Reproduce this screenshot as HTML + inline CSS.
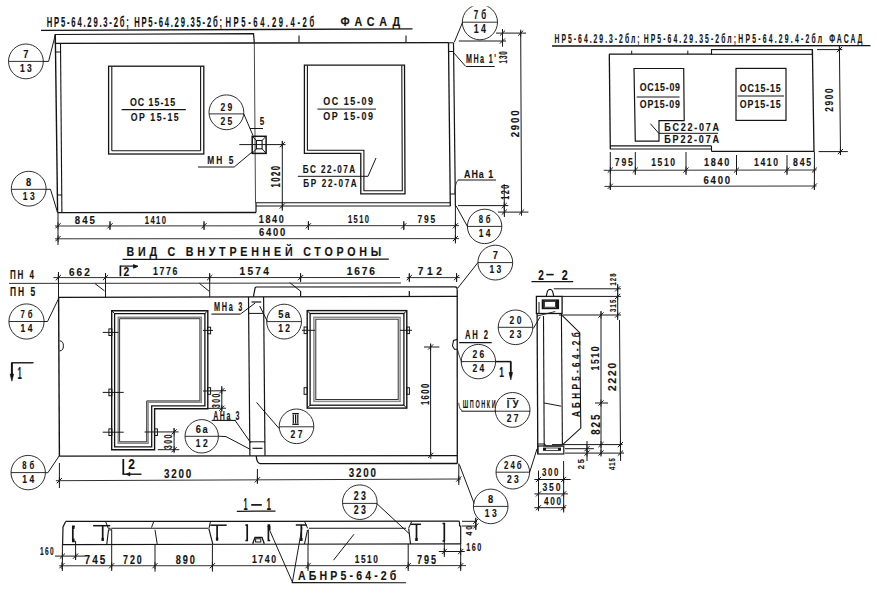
<!DOCTYPE html>
<html><head><meta charset="utf-8"><title>Панель НР5-64</title>
<style>
html,body{margin:0;padding:0;background:#fff;}
body{width:877px;height:594px;overflow:hidden;}
svg{display:block;font-family:"Liberation Sans",sans-serif;}
</style></head>
<body>
<svg width="877" height="594" viewBox="0 0 877 594">
<rect width="877" height="594" fill="#fff"/>
<text transform="translate(46.8,26.8) scale(0.55,1)" font-size="13.91" font-weight="bold" textLength="149.09" lengthAdjust="spacing" fill="#141414" stroke="#141414" stroke-width="0.15">НР5-64.29.3-2б;</text>
<text transform="translate(134.2,26.8) scale(0.55,1)" font-size="13.91" font-weight="bold" textLength="159.64" lengthAdjust="spacing" fill="#141414" stroke="#141414" stroke-width="0.15">НР5-64.29.35-2б;</text>
<text transform="translate(225.4,26.8) scale(0.55,1)" font-size="13.91" font-weight="bold" textLength="161.45" lengthAdjust="spacing" fill="#141414" stroke="#141414" stroke-width="0.15">НР5-64.29.4-2б</text>
<text transform="translate(340.6,26.4) scale(0.8,1)" font-size="13.33" font-weight="bold" textLength="74.25" lengthAdjust="spacing" fill="#141414" stroke="#141414" stroke-width="0.15">ФАСАД</text>
<line x1="41" y1="30.3" x2="412.5" y2="28.9" stroke="#141414" stroke-width="1.3"/>
<polyline points="55.3,43.4 55.3,34.5 253.5,33.6 254.3,42.6" fill="none" stroke="#141414" stroke-width="1.2" stroke-linejoin="miter"/>
<line x1="55.3" y1="43.4" x2="448.5" y2="42.6" stroke="#141414" stroke-width="1.3"/>
<line x1="254.3" y1="42.6" x2="255.5" y2="203" stroke="#181818" stroke-width="0.8"/>
<line x1="55.3" y1="34.5" x2="57.6" y2="212.6" stroke="#141414" stroke-width="1.4"/>
<line x1="60.5" y1="43.4" x2="61.9" y2="212.4" stroke="#141414" stroke-width="1.1"/>
<line x1="55.5" y1="52" x2="60.6" y2="52" stroke="#141414" stroke-width="1.0"/>
<line x1="57.3" y1="195" x2="61.8" y2="195" stroke="#141414" stroke-width="1.0"/>
<line x1="57.6" y1="212.6" x2="256" y2="212.5" stroke="#141414" stroke-width="1.4"/>
<line x1="256" y1="203" x2="256" y2="212.5" stroke="#141414" stroke-width="1.2"/>
<line x1="256" y1="202.8" x2="450.5" y2="202.8" stroke="#141414" stroke-width="1.1"/>
<line x1="256" y1="206" x2="450.5" y2="206" stroke="#141414" stroke-width="1.2"/>
<line x1="448.5" y1="42.6" x2="450.3" y2="206" stroke="#141414" stroke-width="1.3"/>
<line x1="453.5" y1="42.8" x2="455.4" y2="206" stroke="#141414" stroke-width="1.2"/>
<line x1="448.4" y1="42.8" x2="453.5" y2="42.8" stroke="#141414" stroke-width="1.0"/>
<line x1="448.5" y1="51.5" x2="453.6" y2="51.5" stroke="#141414" stroke-width="1.0"/>
<line x1="450.2" y1="194" x2="455.2" y2="194" stroke="#141414" stroke-width="1.0"/>
<line x1="299" y1="35.5" x2="299" y2="42.2" stroke="#141414" stroke-width="1.1"/>
<line x1="406" y1="35.5" x2="406" y2="42.2" stroke="#141414" stroke-width="1.1"/>
<rect x="108.6" y="66.2" width="95.2" height="87.8" fill="none" stroke="#141414" stroke-width="1.3"/>
<line x1="111.8" y1="66.5" x2="111.8" y2="150.8" stroke="#141414" stroke-width="1.1"/>
<line x1="200.6" y1="66.5" x2="200.6" y2="150.8" stroke="#141414" stroke-width="1.1"/>
<line x1="111.8" y1="150.8" x2="200.6" y2="150.8" stroke="#141414" stroke-width="1.1"/>
<text transform="translate(130,106.2) scale(0.8,1)" font-size="11.01" font-weight="bold" textLength="56.37" lengthAdjust="spacing" fill="#141414" stroke="#141414" stroke-width="0.15">ОС 15-15</text>
<text transform="translate(130.8,120.55) scale(0.8,1)" font-size="10.87" font-weight="bold" textLength="59.87" lengthAdjust="spacing" fill="#141414" stroke="#141414" stroke-width="0.15">ОР 15-15</text>
<line x1="121.6" y1="109.6" x2="185.8" y2="109.6" stroke="#141414" stroke-width="1.1"/>
<polygon points="304.4,65.2 404.5,65.2 405,193.8 360.8,193.8 360.8,153.3 304.4,153.3" fill="none" stroke="#141414" stroke-width="1.3" stroke-linejoin="miter"/>
<polyline points="307.4,65.5 307.4,150.3 363.9,150.3 363.9,190.7 402.3,190.7 401.8,65.5" fill="none" stroke="#141414" stroke-width="1.1" stroke-linejoin="miter"/>
<text transform="translate(323.2,105.45) scale(0.8,1)" font-size="11.16" font-weight="bold" textLength="62.25" lengthAdjust="spacing" fill="#141414" stroke="#141414" stroke-width="0.15">ОС 15-09</text>
<text transform="translate(323.2,120.15) scale(0.8,1)" font-size="11.16" font-weight="bold" textLength="62.25" lengthAdjust="spacing" fill="#141414" stroke="#141414" stroke-width="0.15">ОР 15-09</text>
<line x1="317.4" y1="109.1" x2="376" y2="109.1" stroke="#141414" stroke-width="1.0"/>
<text transform="translate(302.8,173.1) scale(0.8,1)" font-size="10.14" font-weight="bold" textLength="65.5" lengthAdjust="spacing" fill="#141414" stroke="#141414" stroke-width="0.15">БС 22-07А</text>
<text transform="translate(303.3,186.5) scale(0.8,1)" font-size="10.14" font-weight="bold" textLength="66.75" lengthAdjust="spacing" fill="#141414" stroke="#141414" stroke-width="0.15">БР 22-07А</text>
<line x1="297.8" y1="176.3" x2="368" y2="176.3" stroke="#141414" stroke-width="1.0"/>
<line x1="368" y1="176.3" x2="376" y2="158" stroke="#181818" stroke-width="1.0"/>
<rect x="252.2" y="136.3" width="13.9" height="17.1" fill="none" stroke="#141414" stroke-width="1.5"/>
<rect x="256.4" y="140.5" width="5.7" height="8.3" fill="none" stroke="#141414" stroke-width="1.1"/>
<line x1="252.2" y1="136.3" x2="256.4" y2="140.5" stroke="#181818" stroke-width="1.0"/>
<line x1="266.1" y1="136.3" x2="262.1" y2="140.5" stroke="#181818" stroke-width="1.0"/>
<line x1="252.2" y1="153.4" x2="256.4" y2="148.8" stroke="#181818" stroke-width="1.0"/>
<line x1="266.1" y1="153.4" x2="262.1" y2="148.8" stroke="#181818" stroke-width="1.0"/>
<line x1="239.3" y1="144.6" x2="285.5" y2="144.6" stroke="#181818" stroke-width="1.0"/>
<text transform="translate(207.2,163.9) scale(0.8,1)" font-size="10.43" font-weight="bold" textLength="32.75" lengthAdjust="spacing" fill="#141414" stroke="#141414" stroke-width="0.15">МН 5</text>
<line x1="198" y1="167" x2="234.2" y2="167" stroke="#181818" stroke-width="1.0"/>
<line x1="234.2" y1="167" x2="251.9" y2="152.2" stroke="#181818" stroke-width="1.0"/>
<circle cx="226.4" cy="112.3" r="17.4" fill="none" stroke="#181818" stroke-width="0.9"/>
<line x1="209" y1="113.9" x2="243.8" y2="113.9" stroke="#181818" stroke-width="0.9"/>
<text transform="translate(220.48,110.6) scale(0.7345524023602119,1)" font-size="11.59" font-weight="bold" textLength="16.12" lengthAdjust="spacing" fill="#141414" stroke="#141414" stroke-width="0.15">29</text>
<text transform="translate(220.48,124.7) scale(0.7345524023602119,1)" font-size="11.59" font-weight="bold" textLength="16.12" lengthAdjust="spacing" fill="#141414" stroke="#141414" stroke-width="0.15">25</text>
<line x1="243.8" y1="113.9" x2="253" y2="135.6" stroke="#181818" stroke-width="1.0"/>
<text transform="translate(259.8,124.5) scale(0.8,1)" font-size="10.14" font-weight="bold" textLength="5.75" lengthAdjust="spacing" fill="#141414" stroke="#141414" stroke-width="0.15">5</text>
<line x1="250" y1="128.5" x2="263" y2="128.5" stroke="#181818" stroke-width="1.0"/>
<line x1="282.3" y1="140.8" x2="282.3" y2="210.8" stroke="#181818" stroke-width="1.0"/>
<line x1="279.7" y1="147.2" x2="284.9" y2="142" stroke="#181818" stroke-width="1.0"/>
<line x1="282.3" y1="141.1" x2="282.3" y2="148.1" stroke="#181818" stroke-width="0.9"/>
<line x1="279.7" y1="208.6" x2="284.9" y2="203.4" stroke="#181818" stroke-width="1.0"/>
<line x1="282.3" y1="202.5" x2="282.3" y2="209.5" stroke="#181818" stroke-width="0.9"/>
<text transform="translate(280.4,187.5) rotate(-90) scale(0.6381246738650502,1)" font-size="12.17" font-weight="bold" textLength="33.85" lengthAdjust="spacing" fill="#141414" stroke="#141414" stroke-width="0.15">1020</text>
<circle cx="25.9" cy="61.4" r="17.4" fill="none" stroke="#181818" stroke-width="0.9"/>
<line x1="8.5" y1="61.4" x2="43.3" y2="61.4" stroke="#181818" stroke-width="0.9"/>
<text transform="translate(23.32,58.1) scale(0.8,1)" font-size="11.59" font-weight="bold" textLength="6.45" lengthAdjust="spacingAndGlyphs" fill="#141414" stroke="#141414" stroke-width="0.15">7</text>
<text transform="translate(19.98,72.2) scale(0.7345524023602138,1)" font-size="11.59" font-weight="bold" textLength="16.12" lengthAdjust="spacing" fill="#141414" stroke="#141414" stroke-width="0.15">13</text>
<line x1="43" y1="61.4" x2="48.6" y2="61.4" stroke="#181818" stroke-width="1.0"/>
<line x1="48.6" y1="61.4" x2="55.3" y2="34.8" stroke="#181818" stroke-width="1.0"/>
<circle cx="28.7" cy="188.7" r="17.4" fill="none" stroke="#181818" stroke-width="0.9"/>
<line x1="11.3" y1="189.3" x2="46.1" y2="189.3" stroke="#181818" stroke-width="0.9"/>
<text transform="translate(26.12,186) scale(0.8,1)" font-size="11.59" font-weight="bold" textLength="6.45" lengthAdjust="spacingAndGlyphs" fill="#141414" stroke="#141414" stroke-width="0.15">8</text>
<text transform="translate(22.78,200.1) scale(0.7345524023602134,1)" font-size="11.59" font-weight="bold" textLength="16.12" lengthAdjust="spacing" fill="#141414" stroke="#141414" stroke-width="0.15">13</text>
<line x1="46" y1="189.3" x2="50.5" y2="189.3" stroke="#181818" stroke-width="1.0"/>
<line x1="50.5" y1="189.3" x2="57.6" y2="212.6" stroke="#181818" stroke-width="1.0"/>
<line x1="55" y1="226" x2="459" y2="225.6" stroke="#181818" stroke-width="0.9"/>
<line x1="55" y1="238.8" x2="459" y2="238.6" stroke="#181818" stroke-width="0.9"/>
<line x1="58" y1="213" x2="58" y2="245" stroke="#181818" stroke-width="1.0"/>
<line x1="455.4" y1="206" x2="455.4" y2="243.5" stroke="#181818" stroke-width="1.0"/>
<line x1="55.4" y1="228.4" x2="60.6" y2="223.2" stroke="#181818" stroke-width="1.0"/>
<line x1="58" y1="222.3" x2="58" y2="229.3" stroke="#181818" stroke-width="0.9"/>
<line x1="107.4" y1="228.4" x2="112.6" y2="223.2" stroke="#181818" stroke-width="1.0"/>
<line x1="110" y1="222.3" x2="110" y2="229.3" stroke="#181818" stroke-width="0.9"/>
<line x1="110" y1="221" x2="110" y2="230" stroke="#181818" stroke-width="1.0"/>
<line x1="201.4" y1="228.4" x2="206.6" y2="223.2" stroke="#181818" stroke-width="1.0"/>
<line x1="204" y1="222.3" x2="204" y2="229.3" stroke="#181818" stroke-width="0.9"/>
<line x1="204" y1="221" x2="204" y2="230" stroke="#181818" stroke-width="1.0"/>
<line x1="305.8" y1="228.4" x2="311" y2="223.2" stroke="#181818" stroke-width="1.0"/>
<line x1="308.4" y1="222.3" x2="308.4" y2="229.3" stroke="#181818" stroke-width="0.9"/>
<line x1="308.4" y1="221" x2="308.4" y2="230" stroke="#181818" stroke-width="1.0"/>
<line x1="401.2" y1="228.4" x2="406.4" y2="223.2" stroke="#181818" stroke-width="1.0"/>
<line x1="403.8" y1="222.3" x2="403.8" y2="229.3" stroke="#181818" stroke-width="0.9"/>
<line x1="403.8" y1="221" x2="403.8" y2="230" stroke="#181818" stroke-width="1.0"/>
<line x1="452.8" y1="228.4" x2="458" y2="223.2" stroke="#181818" stroke-width="1.0"/>
<line x1="455.4" y1="222.3" x2="455.4" y2="229.3" stroke="#181818" stroke-width="0.9"/>
<line x1="55.4" y1="241.3" x2="60.6" y2="236.1" stroke="#181818" stroke-width="1.0"/>
<line x1="58" y1="235.2" x2="58" y2="242.2" stroke="#181818" stroke-width="0.9"/>
<line x1="452.8" y1="241.2" x2="458" y2="236" stroke="#181818" stroke-width="1.0"/>
<line x1="455.4" y1="235.1" x2="455.4" y2="242.1" stroke="#181818" stroke-width="0.9"/>
<text transform="translate(74.8,223.95) scale(0.8867569542006187,1)" font-size="10.87" font-weight="bold" textLength="22.67" lengthAdjust="spacing" fill="#141414" stroke="#141414" stroke-width="0.15">845</text>
<text transform="translate(144.8,223.95) scale(0.7014644563079512,1)" font-size="10.87" font-weight="bold" textLength="30.22" lengthAdjust="spacing" fill="#141414" stroke="#141414" stroke-width="0.15">1410</text>
<text transform="translate(258.7,223.05) scale(0.8532610745668908,1)" font-size="10.58" font-weight="bold" textLength="29.42" lengthAdjust="spacing" fill="#141414" stroke="#141414" stroke-width="0.15">1840</text>
<text transform="translate(348,223.25) scale(0.713883767565924,1)" font-size="10.58" font-weight="bold" textLength="29.42" lengthAdjust="spacing" fill="#141414" stroke="#141414" stroke-width="0.15">1510</text>
<text transform="translate(417.6,223.25) scale(0.7977367815339833,1)" font-size="10.58" font-weight="bold" textLength="22.06" lengthAdjust="spacing" fill="#141414" stroke="#141414" stroke-width="0.15">795</text>
<text transform="translate(259.1,236.3) scale(0.9288259141813507,1)" font-size="10.14" font-weight="bold" textLength="28.21" lengthAdjust="spacing" fill="#141414" stroke="#141414" stroke-width="0.15">6400</text>
<line x1="496" y1="33.1" x2="526" y2="33.1" stroke="#181818" stroke-width="1.0"/>
<line x1="458.8" y1="41" x2="506" y2="41" stroke="#181818" stroke-width="1.0"/>
<line x1="458" y1="205.6" x2="508.4" y2="205.6" stroke="#181818" stroke-width="1.0"/>
<line x1="498" y1="212.1" x2="528.4" y2="212.1" stroke="#181818" stroke-width="1.0"/>
<line x1="502.5" y1="29" x2="502.5" y2="46.7" stroke="#181818" stroke-width="1.0"/>
<line x1="499.9" y1="35.7" x2="505.1" y2="30.5" stroke="#181818" stroke-width="1.0"/>
<line x1="502.5" y1="29.6" x2="502.5" y2="36.6" stroke="#181818" stroke-width="0.9"/>
<line x1="499.9" y1="43.6" x2="505.1" y2="38.4" stroke="#181818" stroke-width="1.0"/>
<line x1="502.5" y1="37.5" x2="502.5" y2="44.5" stroke="#181818" stroke-width="0.9"/>
<text transform="translate(506.6,63.5) rotate(-90) scale(0.6,1)" font-size="10.43" font-weight="bold" textLength="20.5" lengthAdjust="spacing" fill="#141414" stroke="#141414" stroke-width="0.15">130</text>
<line x1="520.7" y1="30.8" x2="521.5" y2="215.5" stroke="#181818" stroke-width="1.0"/>
<line x1="518.1" y1="35.7" x2="523.3" y2="30.5" stroke="#181818" stroke-width="1.0"/>
<line x1="520.7" y1="29.6" x2="520.7" y2="36.6" stroke="#181818" stroke-width="0.9"/>
<line x1="518.9" y1="214.7" x2="524.1" y2="209.5" stroke="#181818" stroke-width="1.0"/>
<line x1="521.5" y1="208.6" x2="521.5" y2="215.6" stroke="#181818" stroke-width="0.9"/>
<text transform="translate(518.7,137.3) rotate(-90) scale(0.8313346445630799,1)" font-size="11.59" font-weight="bold" textLength="32.24" lengthAdjust="spacing" fill="#141414" stroke="#141414" stroke-width="0.15">2900</text>
<line x1="504.2" y1="184" x2="504.4" y2="217" stroke="#181818" stroke-width="1.0"/>
<line x1="501.6" y1="208.2" x2="506.8" y2="203" stroke="#181818" stroke-width="1.0"/>
<line x1="504.2" y1="202.1" x2="504.2" y2="209.1" stroke="#181818" stroke-width="0.9"/>
<line x1="501.7" y1="214.7" x2="506.9" y2="209.5" stroke="#181818" stroke-width="1.0"/>
<line x1="504.3" y1="208.6" x2="504.3" y2="215.6" stroke="#181818" stroke-width="0.9"/>
<text transform="translate(508.95,199.7) rotate(-90) scale(0.6943808396883115,1)" font-size="10.29" font-weight="bold" textLength="21.46" lengthAdjust="spacing" fill="#141414" stroke="#141414" stroke-width="0.15">120</text>
<text transform="translate(466,63.15) scale(0.5553433251388981,1)" font-size="12.9" font-weight="bold" textLength="54.02" lengthAdjust="spacing" fill="#141414" stroke="#141414" stroke-width="0.15">МНа 1'</text>
<line x1="466" y1="66.5" x2="494.7" y2="66.5" stroke="#181818" stroke-width="1.0"/>
<line x1="465.6" y1="66.3" x2="452.5" y2="51.4" stroke="#181818" stroke-width="1.0"/>
<text transform="translate(464,177.65) scale(0.8,1)" font-size="11.16" font-weight="bold" textLength="36.5" lengthAdjust="spacing" fill="#141414" stroke="#141414" stroke-width="0.15">АНа 1</text>
<line x1="457.8" y1="180" x2="496" y2="180" stroke="#141414" stroke-width="1.1"/>
<path d="M458,180.2 Q455,183 454.8,193.3" fill="none" stroke="#181818" stroke-width="0.8"/>
<circle cx="479.9" cy="22.2" r="17.6" fill="none" stroke="#181818" stroke-width="0.9"/>
<line x1="462.3" y1="22.2" x2="497.5" y2="22.2" stroke="#181818" stroke-width="0.9"/>
<text transform="translate(473.76,19.05) scale(0.6612242811501592,1)" font-size="12.03" font-weight="bold" textLength="18.58" lengthAdjust="spacing" fill="#141414" stroke="#141414" stroke-width="0.15">7б</text>
<text transform="translate(473.76,33.15) scale(0.734552402360213,1)" font-size="12.03" font-weight="bold" textLength="16.72" lengthAdjust="spacing" fill="#141414" stroke="#141414" stroke-width="0.15">14</text>
<rect x="471.3" y="0" width="17" height="6.4" fill="#ffffff"/>
<line x1="462.5" y1="22.5" x2="454.3" y2="42.2" stroke="#181818" stroke-width="1.0"/>
<circle cx="484.6" cy="226.4" r="17.2" fill="none" stroke="#181818" stroke-width="0.9"/>
<line x1="467.4" y1="226.4" x2="501.8" y2="226.4" stroke="#181818" stroke-width="0.9"/>
<text transform="translate(478.68,223.1) scale(0.6612242811501615,1)" font-size="11.59" font-weight="bold" textLength="17.91" lengthAdjust="spacing" fill="#141414" stroke="#141414" stroke-width="0.15">8б</text>
<text transform="translate(478.68,237.2) scale(0.7345524023602156,1)" font-size="11.59" font-weight="bold" textLength="16.12" lengthAdjust="spacing" fill="#141414" stroke="#141414" stroke-width="0.15">14</text>
<line x1="467.4" y1="226.4" x2="456" y2="205.8" stroke="#181818" stroke-width="1.0"/>
<text transform="translate(554.6,42.85) scale(0.55,1)" font-size="12.32" font-weight="bold" textLength="154.36" lengthAdjust="spacing" fill="#141414" stroke="#141414" stroke-width="0.15">НР5-64.29.3-2бл;</text>
<text transform="translate(643.7,42.85) scale(0.55,1)" font-size="12.32" font-weight="bold" textLength="167.82" lengthAdjust="spacing" fill="#141414" stroke="#141414" stroke-width="0.15">НР5-64.29.35-2бл;</text>
<text transform="translate(738.3,42.85) scale(0.55,1)" font-size="12.32" font-weight="bold" textLength="152.18" lengthAdjust="spacing" fill="#141414" stroke="#141414" stroke-width="0.15">НР5-64.29.4-2бл</text>
<text transform="translate(829.2,42.85) scale(0.5559748975830334,1)" font-size="12.32" font-weight="bold" textLength="59.89" lengthAdjust="spacing" fill="#141414" stroke="#141414" stroke-width="0.15">ФАСАД</text>
<line x1="552" y1="46" x2="870.5" y2="45.6" stroke="#141414" stroke-width="1.3"/>
<line x1="609" y1="54.2" x2="712" y2="54.2" stroke="#141414" stroke-width="1.2"/>
<rect x="711.5" y="49.6" width="100.9" height="4.7" fill="none" stroke="#141414" stroke-width="1.1"/>
<line x1="609.3" y1="54.2" x2="610.3" y2="149" stroke="#141414" stroke-width="1.3"/>
<line x1="812.4" y1="49.6" x2="814" y2="151.4" stroke="#141414" stroke-width="1.3"/>
<line x1="631.7" y1="50.7" x2="631.7" y2="54.2" stroke="#141414" stroke-width="1.0"/>
<line x1="687.8" y1="50.7" x2="687.8" y2="54.2" stroke="#141414" stroke-width="1.0"/>
<line x1="610" y1="145.9" x2="711.5" y2="145.9" stroke="#141414" stroke-width="1.1"/>
<line x1="610" y1="149" x2="711.5" y2="149" stroke="#141414" stroke-width="1.2"/>
<line x1="711.5" y1="145.9" x2="711.5" y2="151.4" stroke="#141414" stroke-width="1.1"/>
<line x1="711.5" y1="151.4" x2="814" y2="151.4" stroke="#141414" stroke-width="1.3"/>
<polygon points="634,68.5 683.7,68.5 684.2,120.7 659,120.7 659,141.2 635.3,141.2" fill="none" stroke="#141414" stroke-width="1.2" stroke-linejoin="miter"/>
<rect x="736" y="68.4" width="50" height="52" fill="none" stroke="#141414" stroke-width="1.2"/>
<text transform="translate(639.7,91.2) scale(0.8,1)" font-size="11.01" font-weight="bold" textLength="50.37" lengthAdjust="spacing" fill="#141414" stroke="#141414" stroke-width="0.15">ОС15-09</text>
<text transform="translate(639.7,107.6) scale(0.8,1)" font-size="11.01" font-weight="bold" textLength="50.37" lengthAdjust="spacing" fill="#141414" stroke="#141414" stroke-width="0.15">ОР15-09</text>
<line x1="636.7" y1="97" x2="679.6" y2="97" stroke="#141414" stroke-width="1.0"/>
<text transform="translate(739.8,91.8) scale(0.8,1)" font-size="11.01" font-weight="bold" textLength="51.13" lengthAdjust="spacing" fill="#141414" stroke="#141414" stroke-width="0.15">ОС15-15</text>
<text transform="translate(739.8,107.8) scale(0.8,1)" font-size="11.01" font-weight="bold" textLength="51.13" lengthAdjust="spacing" fill="#141414" stroke="#141414" stroke-width="0.15">ОР15-15</text>
<line x1="737.6" y1="96" x2="784" y2="96" stroke="#141414" stroke-width="1.0"/>
<text transform="translate(664.3,131.25) scale(0.9,1)" font-size="10" font-weight="bold" textLength="60.78" lengthAdjust="spacing" fill="#141414" stroke="#141414" stroke-width="0.15">БС22-07А</text>
<text transform="translate(664.3,142.85) scale(0.9,1)" font-size="10" font-weight="bold" textLength="60.78" lengthAdjust="spacing" fill="#141414" stroke="#141414" stroke-width="0.15">БР22-07А</text>
<line x1="658.8" y1="133.3" x2="718" y2="133.3" stroke="#141414" stroke-width="1.0"/>
<line x1="658.8" y1="133.3" x2="650.4" y2="123.7" stroke="#181818" stroke-width="1.0"/>
<line x1="603.7" y1="170.3" x2="816.5" y2="170" stroke="#181818" stroke-width="0.9"/>
<line x1="604.4" y1="186.4" x2="816.5" y2="186" stroke="#181818" stroke-width="0.9"/>
<line x1="607.7" y1="172.7" x2="612.9" y2="167.5" stroke="#181818" stroke-width="1.0"/>
<line x1="610.3" y1="166.6" x2="610.3" y2="173.6" stroke="#181818" stroke-width="0.9"/>
<line x1="632.7" y1="172.7" x2="637.9" y2="167.5" stroke="#181818" stroke-width="1.0"/>
<line x1="635.3" y1="166.6" x2="635.3" y2="173.6" stroke="#181818" stroke-width="0.9"/>
<line x1="683.4" y1="172.7" x2="688.6" y2="167.5" stroke="#181818" stroke-width="1.0"/>
<line x1="686" y1="166.6" x2="686" y2="173.6" stroke="#181818" stroke-width="0.9"/>
<line x1="733.9" y1="172.7" x2="739.1" y2="167.5" stroke="#181818" stroke-width="1.0"/>
<line x1="736.5" y1="166.6" x2="736.5" y2="173.6" stroke="#181818" stroke-width="0.9"/>
<line x1="784.4" y1="172.7" x2="789.6" y2="167.5" stroke="#181818" stroke-width="1.0"/>
<line x1="787" y1="166.6" x2="787" y2="173.6" stroke="#181818" stroke-width="0.9"/>
<line x1="811.8" y1="172.7" x2="817" y2="167.5" stroke="#181818" stroke-width="1.0"/>
<line x1="814.4" y1="166.6" x2="814.4" y2="173.6" stroke="#181818" stroke-width="0.9"/>
<line x1="610.3" y1="152" x2="610.3" y2="190" stroke="#181818" stroke-width="1.0"/>
<line x1="635.3" y1="152" x2="635.3" y2="175" stroke="#181818" stroke-width="1.0"/>
<line x1="686" y1="152" x2="686" y2="175" stroke="#181818" stroke-width="1.0"/>
<line x1="736.5" y1="155" x2="736.5" y2="175" stroke="#181818" stroke-width="1.0"/>
<line x1="787" y1="155" x2="787" y2="175" stroke="#181818" stroke-width="1.0"/>
<line x1="814.4" y1="151.4" x2="814.4" y2="190" stroke="#181818" stroke-width="1.0"/>
<line x1="607.7" y1="188.9" x2="612.9" y2="183.7" stroke="#181818" stroke-width="1.0"/>
<line x1="610.3" y1="182.8" x2="610.3" y2="189.8" stroke="#181818" stroke-width="0.9"/>
<line x1="811.8" y1="188.6" x2="817" y2="183.4" stroke="#181818" stroke-width="1.0"/>
<line x1="814.4" y1="182.5" x2="814.4" y2="189.5" stroke="#181818" stroke-width="0.9"/>
<text transform="translate(614.8,166.05) scale(0.7539025682793843,1)" font-size="11.45" font-weight="bold" textLength="23.88" lengthAdjust="spacing" fill="#141414" stroke="#141414" stroke-width="0.15">795</text>
<text transform="translate(651.3,166.05) scale(0.7444787861758935,1)" font-size="11.45" font-weight="bold" textLength="31.83" lengthAdjust="spacing" fill="#141414" stroke="#141414" stroke-width="0.15">1510</text>
<text transform="translate(704.1,166.3) scale(0.8261102320285105,1)" font-size="11.01" font-weight="bold" textLength="30.63" lengthAdjust="spacing" fill="#141414" stroke="#141414" stroke-width="0.15">1840</text>
<text transform="translate(754,166.3) scale(0.7836618801851497,1)" font-size="11.01" font-weight="bold" textLength="30.63" lengthAdjust="spacing" fill="#141414" stroke="#141414" stroke-width="0.15">1410</text>
<text transform="translate(793,166.3) scale(0.7880155572972902,1)" font-size="11.01" font-weight="bold" textLength="22.97" lengthAdjust="spacing" fill="#141414" stroke="#141414" stroke-width="0.15">845</text>
<text transform="translate(703.4,183.85) scale(0.9076522187623907,1)" font-size="10.58" font-weight="bold" textLength="29.42" lengthAdjust="spacing" fill="#141414" stroke="#141414" stroke-width="0.15">6400</text>
<line x1="817" y1="49.6" x2="842.3" y2="49.6" stroke="#181818" stroke-width="1.0"/>
<line x1="818.6" y1="151.6" x2="847.8" y2="151.6" stroke="#181818" stroke-width="1.0"/>
<line x1="839.4" y1="45" x2="840.5" y2="155" stroke="#181818" stroke-width="1.0"/>
<line x1="836.8" y1="52.2" x2="842" y2="47" stroke="#181818" stroke-width="1.0"/>
<line x1="839.4" y1="46.1" x2="839.4" y2="53.1" stroke="#181818" stroke-width="0.9"/>
<line x1="837.8" y1="154.2" x2="843" y2="149" stroke="#181818" stroke-width="1.0"/>
<line x1="840.4" y1="148.1" x2="840.4" y2="155.1" stroke="#181818" stroke-width="0.9"/>
<text transform="translate(833.4,111.7) rotate(-90) scale(0.8030720239767722,1)" font-size="10.43" font-weight="bold" textLength="29.01" lengthAdjust="spacing" fill="#141414" stroke="#141414" stroke-width="0.15">2900</text>
<text transform="translate(126.5,256) scale(0.8,1)" font-size="13.33" font-weight="bold" textLength="318.37" lengthAdjust="spacing" fill="#141414" stroke="#141414" stroke-width="0.15">ВИД С ВНУТРЕННЕЙ СТОРОНЫ</text>
<line x1="122.5" y1="259.4" x2="388.8" y2="259.2" stroke="#141414" stroke-width="1.2"/>
<text transform="translate(9.9,279.4) scale(0.6013599835153514,1)" font-size="13.33" font-weight="bold" textLength="39.91" lengthAdjust="spacing" fill="#141414" stroke="#141414" stroke-width="0.15">ПН 4</text>
<text transform="translate(9.9,295.85) scale(0.6553021992651367,1)" font-size="12.9" font-weight="bold" textLength="38.61" lengthAdjust="spacing" fill="#141414" stroke="#141414" stroke-width="0.15">ПН 5</text>
<line x1="9" y1="283.4" x2="401" y2="283" stroke="#181818" stroke-width="0.9"/>
<line x1="53.4" y1="277.6" x2="400" y2="277.5" stroke="#181818" stroke-width="0.9"/>
<line x1="406.7" y1="277.6" x2="459.8" y2="277.6" stroke="#181818" stroke-width="0.9"/>
<line x1="55.7" y1="280.2" x2="60.9" y2="275" stroke="#181818" stroke-width="1.0"/>
<line x1="58.3" y1="274.1" x2="58.3" y2="281.1" stroke="#181818" stroke-width="0.9"/>
<line x1="102.9" y1="280.2" x2="108.1" y2="275" stroke="#181818" stroke-width="1.0"/>
<line x1="105.5" y1="274.1" x2="105.5" y2="281.1" stroke="#181818" stroke-width="0.9"/>
<line x1="207.1" y1="280.2" x2="212.3" y2="275" stroke="#181818" stroke-width="1.0"/>
<line x1="209.7" y1="274.1" x2="209.7" y2="281.1" stroke="#181818" stroke-width="0.9"/>
<line x1="298" y1="280.2" x2="303.2" y2="275" stroke="#181818" stroke-width="1.0"/>
<line x1="300.6" y1="274.1" x2="300.6" y2="281.1" stroke="#181818" stroke-width="0.9"/>
<line x1="406.7" y1="280.2" x2="411.9" y2="275" stroke="#181818" stroke-width="1.0"/>
<line x1="409.3" y1="274.1" x2="409.3" y2="281.1" stroke="#181818" stroke-width="0.9"/>
<line x1="454" y1="280.2" x2="459.2" y2="275" stroke="#181818" stroke-width="1.0"/>
<line x1="456.6" y1="274.1" x2="456.6" y2="281.1" stroke="#181818" stroke-width="0.9"/>
<text transform="translate(68.9,275.75) scale(0.9220507633230306,1)" font-size="10.87" font-weight="bold" textLength="22.67" lengthAdjust="spacing" fill="#141414" stroke="#141414" stroke-width="0.15">662</text>
<text transform="translate(153,275.1) scale(0.8182559631843139,1)" font-size="10.72" font-weight="bold" textLength="29.82" lengthAdjust="spacing" fill="#141414" stroke="#141414" stroke-width="0.15">1776</text>
<text transform="translate(239.5,275.3) scale(0.95,1)" font-size="10.72" font-weight="bold" textLength="30.95" lengthAdjust="spacing" fill="#141414" stroke="#141414" stroke-width="0.15">1574</text>
<text transform="translate(346.7,275.3) scale(0.9490427769719708,1)" font-size="10.72" font-weight="bold" textLength="29.82" lengthAdjust="spacing" fill="#141414" stroke="#141414" stroke-width="0.15">1676</text>
<text transform="translate(417.7,275.3) scale(0.95,1)" font-size="10.72" font-weight="bold" textLength="25.58" lengthAdjust="spacing" fill="#141414" stroke="#141414" stroke-width="0.15">712</text>
<line x1="120.4" y1="265.5" x2="120.4" y2="276.2" stroke="#141414" stroke-width="1.7"/>
<line x1="120.4" y1="266.1" x2="137.8" y2="266.1" stroke="#141414" stroke-width="1.2"/>
<polygon points="133.5,264.6 137.8,266.4 133.5,268.2" fill="#141414" stroke="#141414" stroke-width="0.8" stroke-linejoin="miter"/>
<text transform="translate(123.6,276.45) scale(0.8,1)" font-size="12.9" font-weight="bold" textLength="9.5" lengthAdjust="spacing" fill="#141414" stroke="#141414" stroke-width="0.15">2</text>
<line x1="58.5" y1="272" x2="58.5" y2="297.6" stroke="#181818" stroke-width="1.0"/>
<line x1="105.5" y1="273" x2="105.5" y2="297" stroke="#181818" stroke-width="1.0"/>
<line x1="94.9" y1="283.5" x2="104.5" y2="290.9" stroke="#181818" stroke-width="1.0"/>
<line x1="209.7" y1="273" x2="209.7" y2="297" stroke="#181818" stroke-width="1.0"/>
<line x1="199.3" y1="283.2" x2="209" y2="291.2" stroke="#181818" stroke-width="1.0"/>
<line x1="300.6" y1="273" x2="300.6" y2="282" stroke="#181818" stroke-width="1.0"/>
<line x1="289.7" y1="282.6" x2="300.6" y2="291.2" stroke="#181818" stroke-width="1.0"/>
<line x1="300.6" y1="291" x2="300.6" y2="296.5" stroke="#141414" stroke-width="1.2"/>
<line x1="409.3" y1="273" x2="409.3" y2="282" stroke="#181818" stroke-width="1.0"/>
<line x1="409.3" y1="291" x2="409.3" y2="296.5" stroke="#141414" stroke-width="1.2"/>
<line x1="456.6" y1="273" x2="456.6" y2="282" stroke="#181818" stroke-width="1.0"/>
<line x1="58.3" y1="297.4" x2="457.2" y2="296.3" stroke="#141414" stroke-width="1.3"/>
<path d="M253.4,296.6 L255.2,287.6 Q255.6,287 256.5,287 L455,286.9 Q457.2,287 457.2,289.5" fill="none" stroke="#141414" stroke-width="1.2"/>
<line x1="457.2" y1="289.5" x2="457.3" y2="463.5" stroke="#141414" stroke-width="1.3"/>
<line x1="58.6" y1="297.6" x2="59.4" y2="456.2" stroke="#141414" stroke-width="1.4"/>
<line x1="59.4" y1="456.2" x2="457.2" y2="455.6" stroke="#141414" stroke-width="1.3"/>
<path d="M256.2,456 Q257,463.5 260,463.6 L457.3,463.5" fill="none" stroke="#141414" stroke-width="1.3"/>
<path d="M59.6,340.8 Q63.4,341 63.4,345.8 Q63.4,350.9 59.6,350.9" fill="none" stroke="#141414" stroke-width="1.0"/>
<line x1="248.5" y1="297" x2="249.9" y2="455.7" stroke="#141414" stroke-width="1.2"/>
<line x1="263.6" y1="297" x2="265" y2="455.7" stroke="#141414" stroke-width="1.2"/>
<line x1="248.6" y1="313.4" x2="263.8" y2="313.4" stroke="#141414" stroke-width="1.0"/>
<line x1="251.5" y1="302" x2="261.2" y2="302" stroke="#141414" stroke-width="1.2"/>
<line x1="249.8" y1="441.8" x2="264.9" y2="441.8" stroke="#141414" stroke-width="1.0"/>
<line x1="252.5" y1="448.3" x2="262.5" y2="448.3" stroke="#141414" stroke-width="1.2"/>
<text transform="translate(214,311.15) scale(0.5771440175185364,1)" font-size="12.61" font-weight="bold" textLength="48.86" lengthAdjust="spacing" fill="#141414" stroke="#141414" stroke-width="0.15">МНа 3</text>
<line x1="211.4" y1="314.1" x2="240.4" y2="314.1" stroke="#141414" stroke-width="1.1"/>
<line x1="240.4" y1="314.1" x2="255.2" y2="303" stroke="#181818" stroke-width="1.0"/>
<circle cx="284.1" cy="321.6" r="17.4" fill="none" stroke="#181818" stroke-width="0.9"/>
<line x1="266.7" y1="321.6" x2="301.5" y2="321.6" stroke="#181818" stroke-width="0.9"/>
<text transform="translate(278.18,318.3) scale(0.8,1)" font-size="11.59" font-weight="bold" textLength="14.8" lengthAdjust="spacing" fill="#141414" stroke="#141414" stroke-width="0.15">5а</text>
<text transform="translate(278.18,332.4) scale(0.7345524023602156,1)" font-size="11.59" font-weight="bold" textLength="16.12" lengthAdjust="spacing" fill="#141414" stroke="#141414" stroke-width="0.15">12</text>
<line x1="267.2" y1="321" x2="259.7" y2="306" stroke="#181818" stroke-width="1.0"/>
<text transform="translate(213.2,419.85) scale(0.5212231745918843,1)" font-size="13.48" font-weight="bold" textLength="50.27" lengthAdjust="spacing" fill="#141414" stroke="#141414" stroke-width="0.15">АНа 3</text>
<line x1="211.7" y1="420.4" x2="235.8" y2="420.4" stroke="#141414" stroke-width="1.1"/>
<line x1="235" y1="420.3" x2="250.8" y2="442.9" stroke="#181818" stroke-width="1.0"/>
<circle cx="201.7" cy="436.3" r="16.7" fill="none" stroke="#181818" stroke-width="0.9"/>
<line x1="185" y1="436.3" x2="218.4" y2="436.3" stroke="#181818" stroke-width="0.9"/>
<text transform="translate(195.78,433) scale(0.8,1)" font-size="11.59" font-weight="bold" textLength="14.8" lengthAdjust="spacing" fill="#141414" stroke="#141414" stroke-width="0.15">6а</text>
<text transform="translate(195.78,447.1) scale(0.7345524023602119,1)" font-size="11.59" font-weight="bold" textLength="16.12" lengthAdjust="spacing" fill="#141414" stroke="#141414" stroke-width="0.15">12</text>
<line x1="218.4" y1="436.2" x2="226" y2="436.6" stroke="#181818" stroke-width="1.0"/>
<line x1="226" y1="436.6" x2="250.3" y2="449.4" stroke="#181818" stroke-width="1.0"/>
<circle cx="296.5" cy="426.3" r="17.3" fill="none" stroke="#181818" stroke-width="0.9"/>
<line x1="279.2" y1="426.8" x2="313.8" y2="426.8" stroke="#181818" stroke-width="0.9"/>
<text transform="translate(290.58,437.6) scale(0.7345524023602156,1)" font-size="11.59" font-weight="bold" textLength="16.12" lengthAdjust="spacing" fill="#141414" stroke="#141414" stroke-width="0.15">27</text>
<line x1="292.3" y1="413.6" x2="298.8" y2="413.6" stroke="#141414" stroke-width="1.3"/>
<line x1="292.3" y1="424.3" x2="298.8" y2="424.3" stroke="#141414" stroke-width="1.3"/>
<line x1="293.3" y1="414.5" x2="293.3" y2="423.5" stroke="#141414" stroke-width="1.2"/>
<line x1="295.6" y1="414.5" x2="295.6" y2="423.5" stroke="#141414" stroke-width="1.2"/>
<line x1="297.8" y1="414.5" x2="297.8" y2="423.5" stroke="#141414" stroke-width="1.2"/>
<line x1="279.2" y1="428.6" x2="256.5" y2="402.4" stroke="#181818" stroke-width="1.0"/>
<polygon points="111.7,310.8 207.8,310.8 207.8,408.8 154.6,408.8 154.6,449.7 111.7,449.7" fill="none" stroke="#141414" stroke-width="1.4" stroke-linejoin="miter"/>
<polygon points="114.6,313.7 204.9,313.7 204.9,405.9 151.7,405.9 151.7,446.8 114.6,446.8" fill="none" stroke="#141414" stroke-width="1.3" stroke-linejoin="miter"/>
<polygon points="118.2,317.3 201.3,317.3 201.3,402.3 148.1,402.3 148.1,443.2 118.2,443.2" fill="none" stroke="#8a8a8a" stroke-width="1.5" stroke-linejoin="miter"/>
<polygon points="119.6,318.7 199.9,318.7 199.9,400.9 146.7,400.9 146.7,441.8 119.6,441.8" fill="none" stroke="#333" stroke-width="1.0" stroke-linejoin="miter"/>
<line x1="111.9" y1="310.9" x2="115" y2="314" stroke="#181818" stroke-width="1.0"/>
<line x1="207.5" y1="310.9" x2="204.4" y2="314" stroke="#181818" stroke-width="1.0"/>
<rect x="108.9" y="328.9" width="3" height="6.6" fill="none" stroke="#141414" stroke-width="1.0"/>
<rect x="108.9" y="389.1" width="3" height="6.6" fill="none" stroke="#141414" stroke-width="1.0"/>
<rect x="108.9" y="428.9" width="3" height="6.6" fill="none" stroke="#141414" stroke-width="1.0"/>
<rect x="207.5" y="327.2" width="3.1" height="6.6" fill="none" stroke="#141414" stroke-width="1.0"/>
<rect x="207.5" y="387.7" width="3.1" height="6.6" fill="none" stroke="#141414" stroke-width="1.0"/>
<rect x="154.6" y="428.9" width="2.8" height="6.6" fill="none" stroke="#141414" stroke-width="1.0"/>
<line x1="102.7" y1="332.4" x2="118.5" y2="332.4" stroke="#181818" stroke-width="1.0"/>
<line x1="102.7" y1="392.4" x2="123.7" y2="392.4" stroke="#181818" stroke-width="1.0"/>
<line x1="102.7" y1="432.2" x2="123.7" y2="432.2" stroke="#181818" stroke-width="1.0"/>
<line x1="203" y1="330.4" x2="213" y2="330.4" stroke="#181818" stroke-width="1.0"/>
<line x1="203" y1="391" x2="226" y2="390.7" stroke="#181818" stroke-width="1.0"/>
<line x1="144.5" y1="432" x2="178.6" y2="431.9" stroke="#181818" stroke-width="1.0"/>
<line x1="157.8" y1="449.7" x2="179.3" y2="449.7" stroke="#181818" stroke-width="1.0"/>
<line x1="208" y1="408.4" x2="226" y2="408.2" stroke="#181818" stroke-width="1.0"/>
<line x1="221.8" y1="386" x2="221.8" y2="411" stroke="#181818" stroke-width="1.0"/>
<line x1="219.2" y1="393.4" x2="224.4" y2="388.2" stroke="#181818" stroke-width="1.0"/>
<line x1="221.8" y1="387.3" x2="221.8" y2="394.3" stroke="#181818" stroke-width="0.9"/>
<line x1="219.2" y1="410.9" x2="224.4" y2="405.7" stroke="#181818" stroke-width="1.0"/>
<line x1="221.8" y1="404.8" x2="221.8" y2="411.8" stroke="#181818" stroke-width="0.9"/>
<text transform="translate(220.05,408) rotate(-90) scale(0.661758921045237,1)" font-size="10.29" font-weight="bold" textLength="21.46" lengthAdjust="spacing" fill="#141414" stroke="#141414" stroke-width="0.15">300</text>
<line x1="174.1" y1="428" x2="174.1" y2="452" stroke="#181818" stroke-width="1.0"/>
<line x1="171.5" y1="434.5" x2="176.7" y2="429.3" stroke="#181818" stroke-width="1.0"/>
<line x1="174.1" y1="428.4" x2="174.1" y2="435.4" stroke="#181818" stroke-width="0.9"/>
<line x1="171.5" y1="452.3" x2="176.7" y2="447.1" stroke="#181818" stroke-width="1.0"/>
<line x1="174.1" y1="446.2" x2="174.1" y2="453.2" stroke="#181818" stroke-width="0.9"/>
<text transform="translate(172.35,449.2) rotate(-90) scale(0.6316789700886352,1)" font-size="11.16" font-weight="bold" textLength="23.27" lengthAdjust="spacing" fill="#141414" stroke="#141414" stroke-width="0.15">300</text>
<rect x="307.2" y="310.6" width="99.6" height="97.5" fill="none" stroke="#141414" stroke-width="1.4"/>
<rect x="310.1" y="313.5" width="93.8" height="91.7" fill="none" stroke="#141414" stroke-width="1.3"/>
<rect x="313.9" y="317.3" width="86.2" height="84.1" fill="none" stroke="#8a8a8a" stroke-width="1.5"/>
<rect x="315.8" y="319.2" width="82.4" height="80.3" fill="none" stroke="#333" stroke-width="1.0"/>
<line x1="307.2" y1="310.8" x2="310.2" y2="313.6" stroke="#181818" stroke-width="1.0"/>
<line x1="406.8" y1="310.8" x2="403.7" y2="313.6" stroke="#181818" stroke-width="1.0"/>
<line x1="307.2" y1="408.1" x2="310.2" y2="405.1" stroke="#181818" stroke-width="1.0"/>
<line x1="406.8" y1="408.1" x2="403.7" y2="405.1" stroke="#181818" stroke-width="1.0"/>
<rect x="304.1" y="327" width="3.1" height="6.6" fill="none" stroke="#141414" stroke-width="1.0"/>
<rect x="304.1" y="387.7" width="3.1" height="6.6" fill="none" stroke="#141414" stroke-width="1.0"/>
<rect x="406.8" y="327" width="2.6" height="6.6" fill="none" stroke="#141414" stroke-width="1.0"/>
<rect x="406.8" y="387.7" width="2.6" height="6.6" fill="none" stroke="#141414" stroke-width="1.0"/>
<line x1="302" y1="330.3" x2="315" y2="330.3" stroke="#181818" stroke-width="1.0"/>
<line x1="400" y1="330.3" x2="412" y2="330.3" stroke="#181818" stroke-width="1.0"/>
<line x1="430.6" y1="343.8" x2="430.6" y2="455.8" stroke="#181818" stroke-width="1.0"/>
<line x1="424" y1="347" x2="439.4" y2="347" stroke="#181818" stroke-width="1.0"/>
<line x1="428" y1="349.6" x2="433.2" y2="344.4" stroke="#181818" stroke-width="1.0"/>
<line x1="430.6" y1="343.5" x2="430.6" y2="350.5" stroke="#181818" stroke-width="0.9"/>
<line x1="428.2" y1="458" x2="433.4" y2="452.8" stroke="#181818" stroke-width="1.0"/>
<line x1="430.8" y1="451.9" x2="430.8" y2="458.9" stroke="#181818" stroke-width="0.9"/>
<text transform="translate(429.2,405.1) rotate(-90) scale(0.6607249227311046,1)" font-size="11.59" font-weight="bold" textLength="32.24" lengthAdjust="spacing" fill="#141414" stroke="#141414" stroke-width="0.15">1600</text>
<polyline points="457.3,339.4 453.5,340.5 452.5,346 454.5,349.2 457.3,349.2" fill="none" stroke="#141414" stroke-width="1.1" stroke-linejoin="miter"/>
<text transform="translate(465,339.45) scale(0.6228224482303724,1)" font-size="12.32" font-weight="bold" textLength="36.93" lengthAdjust="spacing" fill="#141414" stroke="#141414" stroke-width="0.15">АН 2</text>
<line x1="459.1" y1="342.6" x2="491.7" y2="342.6" stroke="#141414" stroke-width="1.1"/>
<path d="M457.5,349.5 Q459,356 461.8,362.4" fill="none" stroke="#181818" stroke-width="0.8"/>
<circle cx="478.4" cy="361.6" r="17.2" fill="none" stroke="#181818" stroke-width="0.9"/>
<line x1="461.2" y1="361.6" x2="495.6" y2="361.6" stroke="#181818" stroke-width="0.9"/>
<text transform="translate(472.48,358.3) scale(0.7345524023602156,1)" font-size="11.59" font-weight="bold" textLength="16.12" lengthAdjust="spacing" fill="#141414" stroke="#141414" stroke-width="0.15">26</text>
<text transform="translate(472.48,372.4) scale(0.7345524023602156,1)" font-size="11.59" font-weight="bold" textLength="16.12" lengthAdjust="spacing" fill="#141414" stroke="#141414" stroke-width="0.15">24</text>
<line x1="495.6" y1="361.6" x2="511.2" y2="361.6" stroke="#141414" stroke-width="1.5"/>
<line x1="510.8" y1="361.6" x2="510.8" y2="376" stroke="#141414" stroke-width="1.8"/>
<polygon points="509,372.5 510.8,380 512.6,372.5" fill="#141414" stroke="#141414" stroke-width="0.6" stroke-linejoin="miter"/>
<text transform="translate(499.3,377.3) scale(0.8,1)" font-size="13.91" font-weight="bold" textLength="5.87" lengthAdjust="spacingAndGlyphs" fill="#141414" stroke="#141414" stroke-width="0.15">1</text>
<text transform="translate(462.8,407.9) scale(0.5397263567677819,1)" font-size="10.14" font-weight="bold" textLength="60.77" lengthAdjust="spacing" fill="#141414" stroke="#141414" stroke-width="0.15">ШПОНКИ</text>
<line x1="461.4" y1="411.2" x2="496" y2="411.2" stroke="#141414" stroke-width="1.0"/>
<path d="M458.7,402.9 Q459.5,410.5 462.4,410.5" fill="none" stroke="#181818" stroke-width="0.8"/>
<circle cx="512.6" cy="409.9" r="17.4" fill="none" stroke="#181818" stroke-width="0.9"/>
<line x1="495.2" y1="411.2" x2="530" y2="411.2" stroke="#181818" stroke-width="0.9"/>
<text transform="translate(506.68,407.9) scale(0.8,1)" font-size="11.59" font-weight="bold" textLength="14.8" lengthAdjust="spacing" fill="#141414" stroke="#141414" stroke-width="0.15">IУ</text>
<text transform="translate(506.68,422) scale(0.7345524023602119,1)" font-size="11.59" font-weight="bold" textLength="16.12" lengthAdjust="spacing" fill="#141414" stroke="#141414" stroke-width="0.15">27</text>
<line x1="507" y1="398.6" x2="515.4" y2="398.6" stroke="#141414" stroke-width="1.1"/>
<circle cx="515.5" cy="327.3" r="17.3" fill="none" stroke="#181818" stroke-width="0.9"/>
<line x1="498.2" y1="327.3" x2="532.8" y2="327.3" stroke="#181818" stroke-width="0.9"/>
<text transform="translate(509.58,324) scale(0.7345524023602119,1)" font-size="11.59" font-weight="bold" textLength="16.12" lengthAdjust="spacing" fill="#141414" stroke="#141414" stroke-width="0.15">20</text>
<text transform="translate(509.58,338.1) scale(0.7345524023602119,1)" font-size="11.59" font-weight="bold" textLength="16.12" lengthAdjust="spacing" fill="#141414" stroke="#141414" stroke-width="0.15">23</text>
<line x1="533.3" y1="328.5" x2="540.2" y2="316.8" stroke="#181818" stroke-width="1.0"/>
<circle cx="495.3" cy="262.6" r="17.4" fill="none" stroke="#181818" stroke-width="0.9"/>
<line x1="477.9" y1="262.6" x2="512.7" y2="262.6" stroke="#181818" stroke-width="0.9"/>
<text transform="translate(492.72,259.3) scale(0.8,1)" font-size="11.59" font-weight="bold" textLength="6.45" lengthAdjust="spacing" fill="#141414" stroke="#141414" stroke-width="0.15">7</text>
<text transform="translate(489.38,273.4) scale(0.7345524023602156,1)" font-size="11.59" font-weight="bold" textLength="16.12" lengthAdjust="spacing" fill="#141414" stroke="#141414" stroke-width="0.15">13</text>
<line x1="477.9" y1="262.6" x2="457.7" y2="288.2" stroke="#181818" stroke-width="1.0"/>
<circle cx="26.5" cy="321.5" r="17.6" fill="none" stroke="#181818" stroke-width="0.9"/>
<line x1="8.9" y1="321.5" x2="44.1" y2="321.5" stroke="#181818" stroke-width="0.9"/>
<text transform="translate(20.58,318.2) scale(0.6612242811501599,1)" font-size="11.59" font-weight="bold" textLength="17.91" lengthAdjust="spacing" fill="#141414" stroke="#141414" stroke-width="0.15">7б</text>
<text transform="translate(20.58,332.3) scale(0.7345524023602138,1)" font-size="11.59" font-weight="bold" textLength="16.12" lengthAdjust="spacing" fill="#141414" stroke="#141414" stroke-width="0.15">14</text>
<line x1="44" y1="321.5" x2="47.5" y2="321.5" stroke="#181818" stroke-width="1.0"/>
<line x1="47.5" y1="321.5" x2="58.3" y2="299.2" stroke="#181818" stroke-width="1.0"/>
<circle cx="28.2" cy="472.6" r="17.2" fill="none" stroke="#181818" stroke-width="0.9"/>
<line x1="11" y1="472.6" x2="45.4" y2="472.6" stroke="#181818" stroke-width="0.9"/>
<text transform="translate(22.28,469.3) scale(0.6612242811501594,1)" font-size="11.59" font-weight="bold" textLength="17.91" lengthAdjust="spacing" fill="#141414" stroke="#141414" stroke-width="0.15">8б</text>
<text transform="translate(22.28,483.4) scale(0.7345524023602134,1)" font-size="11.59" font-weight="bold" textLength="16.12" lengthAdjust="spacing" fill="#141414" stroke="#141414" stroke-width="0.15">14</text>
<line x1="45.4" y1="472.7" x2="47.9" y2="472.7" stroke="#181818" stroke-width="1.0"/>
<line x1="47.9" y1="472.7" x2="59.1" y2="456" stroke="#181818" stroke-width="1.0"/>
<line x1="11.2" y1="362.8" x2="33.5" y2="362.8" stroke="#141414" stroke-width="1.4"/>
<line x1="11.9" y1="363" x2="11.9" y2="377" stroke="#141414" stroke-width="2.0"/>
<polygon points="10.1,374 11.9,381.2 13.7,374" fill="#141414" stroke="#141414" stroke-width="0.6" stroke-linejoin="miter"/>
<text transform="translate(17.5,378.5) scale(0.8,1)" font-size="15.94" font-weight="bold" textLength="5.38" lengthAdjust="spacingAndGlyphs" fill="#141414" stroke="#141414" stroke-width="0.15">1</text>
<line x1="123.3" y1="459" x2="123.3" y2="474.2" stroke="#141414" stroke-width="1.8"/>
<line x1="122.5" y1="474.2" x2="141.5" y2="474.2" stroke="#141414" stroke-width="1.4"/>
<polygon points="130,472.4 126,474.2 130,476" fill="#141414" stroke="#141414" stroke-width="0.6" stroke-linejoin="miter"/>
<text transform="translate(128.3,469.15) scale(0.8,1)" font-size="14.93" font-weight="bold" textLength="8.75" lengthAdjust="spacing" fill="#141414" stroke="#141414" stroke-width="0.15">2</text>
<line x1="55.9" y1="480.7" x2="461" y2="479" stroke="#181818" stroke-width="0.9"/>
<line x1="59.4" y1="463" x2="59.4" y2="488" stroke="#181818" stroke-width="1.0"/>
<line x1="56.8" y1="483.2" x2="62" y2="478" stroke="#181818" stroke-width="1.0"/>
<line x1="59.4" y1="477.1" x2="59.4" y2="484.1" stroke="#181818" stroke-width="0.9"/>
<line x1="257.4" y1="469" x2="257.4" y2="483.8" stroke="#181818" stroke-width="1.0"/>
<line x1="254.8" y1="482.4" x2="260" y2="477.2" stroke="#181818" stroke-width="1.0"/>
<line x1="257.4" y1="476.3" x2="257.4" y2="483.3" stroke="#181818" stroke-width="0.9"/>
<line x1="458.8" y1="463.5" x2="458.8" y2="485" stroke="#181818" stroke-width="1.0"/>
<line x1="456.2" y1="481.6" x2="461.4" y2="476.4" stroke="#181818" stroke-width="1.0"/>
<line x1="458.8" y1="475.5" x2="458.8" y2="482.5" stroke="#181818" stroke-width="0.9"/>
<text transform="translate(163.9,477.55) scale(0.7970302299059546,1)" font-size="12.32" font-weight="bold" textLength="34.25" lengthAdjust="spacing" fill="#141414" stroke="#141414" stroke-width="0.15">3200</text>
<text transform="translate(348.7,477.45) scale(0.7941107052542846,1)" font-size="12.32" font-weight="bold" textLength="34.25" lengthAdjust="spacing" fill="#141414" stroke="#141414" stroke-width="0.15">3200</text>
<circle cx="490.7" cy="506.4" r="17.3" fill="none" stroke="#181818" stroke-width="0.9"/>
<line x1="473.4" y1="506.4" x2="508" y2="506.4" stroke="#181818" stroke-width="0.9"/>
<text transform="translate(488.12,503.1) scale(0.8,1)" font-size="11.59" font-weight="bold" textLength="6.45" lengthAdjust="spacing" fill="#141414" stroke="#141414" stroke-width="0.15">8</text>
<text transform="translate(484.78,517.2) scale(0.7345524023602156,1)" font-size="11.59" font-weight="bold" textLength="16.12" lengthAdjust="spacing" fill="#141414" stroke="#141414" stroke-width="0.15">13</text>
<line x1="473.4" y1="506.4" x2="473.4" y2="506.4" stroke="#181818" stroke-width="1.0"/>
<line x1="459.3" y1="464.5" x2="474.2" y2="503.5" stroke="#181818" stroke-width="1.0"/>
<text transform="translate(538.2,279.55) scale(0.8,1)" font-size="15.51" font-weight="bold" textLength="7" lengthAdjust="spacingAndGlyphs" fill="#141414" stroke="#141414" stroke-width="0.15">2</text>
<text transform="translate(561.8,279.55) scale(0.8,1)" font-size="15.51" font-weight="bold" textLength="7.5" lengthAdjust="spacingAndGlyphs" fill="#141414" stroke="#141414" stroke-width="0.15">2</text>
<line x1="546.3" y1="274.6" x2="553.7" y2="274.6" stroke="#141414" stroke-width="1.6"/>
<line x1="531.5" y1="281.6" x2="573.2" y2="281.6" stroke="#141414" stroke-width="1.3"/>
<path d="M546.2,296.4 L547.5,291 Q550,287.8 552.5,291 L553.8,296.4" fill="none" stroke="#141414" stroke-width="1.1"/>
<rect x="536.4" y="296.4" width="25.7" height="17.1" fill="none" stroke="#141414" stroke-width="1.3"/>
<rect x="541.7" y="299.4" width="17.4" height="9.8" fill="#141414"/>
<rect x="543.9" y="300.9" width="12.1" height="6.8" fill="#ffffff"/>
<rect x="544.5" y="301.5" width="11" height="5.7" fill="none" stroke="#141414" stroke-width="0.8"/>
<line x1="539" y1="302" x2="539" y2="314" stroke="#141414" stroke-width="1.0"/>
<line x1="537.1" y1="313.5" x2="537.8" y2="453.5" stroke="#141414" stroke-width="1.3"/>
<line x1="543.5" y1="316" x2="544.2" y2="446.5" stroke="#141414" stroke-width="1.1"/>
<line x1="561.4" y1="313.5" x2="562.4" y2="445" stroke="#141414" stroke-width="1.1"/>
<line x1="537.1" y1="316" x2="555.3" y2="311.5" stroke="#181818" stroke-width="0.9"/>
<polyline points="562.1,315.3 579.7,332.7 580.8,428.1 562.4,444.8" fill="none" stroke="#141414" stroke-width="1.1" stroke-linejoin="miter"/>
<line x1="543.8" y1="402.9" x2="561.3" y2="406.2" stroke="#181818" stroke-width="1.0"/>
<polyline points="537.8,444 544.6,444 546,446 562.4,446" fill="none" stroke="#141414" stroke-width="1.1" stroke-linejoin="miter"/>
<rect x="537.8" y="446" width="26" height="8" fill="none" stroke="#141414" stroke-width="1.2"/>
<rect x="543" y="447.6" width="18" height="3.2" fill="#141414"/>
<rect x="546" y="448.4" width="12" height="1.6" fill="#ffffff"/>
<text transform="translate(579.5,417.1) rotate(-90) scale(0.8,1)" font-size="10.14" font-weight="bold" textLength="106" lengthAdjust="spacing" fill="#141414" stroke="#141414" stroke-width="0.15">АБНР5-64-2б</text>
<line x1="553.8" y1="288.8" x2="621" y2="288.8" stroke="#181818" stroke-width="1.0"/>
<line x1="562.1" y1="296.4" x2="621" y2="296.4" stroke="#181818" stroke-width="1.0"/>
<line x1="559" y1="315" x2="621" y2="315" stroke="#181818" stroke-width="1.0"/>
<line x1="617.7" y1="284" x2="617.7" y2="320" stroke="#181818" stroke-width="1.0"/>
<line x1="615.1" y1="291.4" x2="620.3" y2="286.2" stroke="#181818" stroke-width="1.0"/>
<line x1="617.7" y1="285.3" x2="617.7" y2="292.3" stroke="#181818" stroke-width="0.9"/>
<line x1="615.1" y1="299" x2="620.3" y2="293.8" stroke="#181818" stroke-width="1.0"/>
<line x1="617.7" y1="292.9" x2="617.7" y2="299.9" stroke="#181818" stroke-width="0.9"/>
<line x1="615.1" y1="317.6" x2="620.3" y2="312.4" stroke="#181818" stroke-width="1.0"/>
<line x1="617.7" y1="311.5" x2="617.7" y2="318.5" stroke="#181818" stroke-width="0.9"/>
<text transform="translate(616.2,285.6) rotate(-90) scale(0.6,1)" font-size="9.86" font-weight="bold" textLength="20.17" lengthAdjust="spacing" fill="#141414" stroke="#141414" stroke-width="0.15">128</text>
<text transform="translate(616.2,311.9) rotate(-90) scale(0.6,1)" font-size="9.86" font-weight="bold" textLength="20.17" lengthAdjust="spacing" fill="#141414" stroke="#141414" stroke-width="0.15">315</text>
<line x1="601" y1="311" x2="601" y2="455.6" stroke="#181818" stroke-width="1.0"/>
<line x1="598.4" y1="317.6" x2="603.6" y2="312.4" stroke="#181818" stroke-width="1.0"/>
<line x1="601" y1="311.5" x2="601" y2="318.5" stroke="#181818" stroke-width="0.9"/>
<line x1="598.4" y1="405.6" x2="603.6" y2="400.4" stroke="#181818" stroke-width="1.0"/>
<line x1="601" y1="399.5" x2="601" y2="406.5" stroke="#181818" stroke-width="0.9"/>
<line x1="595" y1="403" x2="608" y2="403" stroke="#181818" stroke-width="1.0"/>
<line x1="598.4" y1="447.2" x2="603.6" y2="442" stroke="#181818" stroke-width="1.0"/>
<line x1="601" y1="441.1" x2="601" y2="448.1" stroke="#181818" stroke-width="0.9"/>
<text transform="translate(598.8,370.4) rotate(-90) scale(0.7572049192729143,1)" font-size="11.3" font-weight="bold" textLength="31.43" lengthAdjust="spacing" fill="#141414" stroke="#141414" stroke-width="0.15">1510</text>
<text transform="translate(599.6,434.8) rotate(-90) scale(0.8150933051898652,1)" font-size="11.88" font-weight="bold" textLength="24.78" lengthAdjust="spacing" fill="#141414" stroke="#141414" stroke-width="0.15">825</text>
<line x1="619.5" y1="320" x2="620.6" y2="461" stroke="#181818" stroke-width="1.0"/>
<text transform="translate(616.2,391) rotate(-90) scale(0.9208027092175505,1)" font-size="11.01" font-weight="bold" textLength="30.63" lengthAdjust="spacing" fill="#141414" stroke="#141414" stroke-width="0.15">2220</text>
<line x1="552" y1="444.6" x2="622.6" y2="444.6" stroke="#181818" stroke-width="1.0"/>
<line x1="565" y1="448.7" x2="593.9" y2="448.7" stroke="#181818" stroke-width="1.0"/>
<line x1="565" y1="453.1" x2="624" y2="453.1" stroke="#181818" stroke-width="1.0"/>
<line x1="587" y1="441" x2="587" y2="461" stroke="#181818" stroke-width="1.0"/>
<line x1="584.4" y1="451.3" x2="589.6" y2="446.1" stroke="#181818" stroke-width="1.0"/>
<line x1="587" y1="445.2" x2="587" y2="452.2" stroke="#181818" stroke-width="0.9"/>
<line x1="584.4" y1="455.7" x2="589.6" y2="450.5" stroke="#181818" stroke-width="1.0"/>
<line x1="587" y1="449.6" x2="587" y2="456.6" stroke="#181818" stroke-width="0.9"/>
<line x1="617.8" y1="447.2" x2="623" y2="442" stroke="#181818" stroke-width="1.0"/>
<line x1="620.4" y1="441.1" x2="620.4" y2="448.1" stroke="#181818" stroke-width="0.9"/>
<line x1="617.8" y1="455.7" x2="623" y2="450.5" stroke="#181818" stroke-width="1.0"/>
<line x1="620.4" y1="449.6" x2="620.4" y2="456.6" stroke="#181818" stroke-width="0.9"/>
<line x1="598.4" y1="455.7" x2="603.6" y2="450.5" stroke="#181818" stroke-width="1.0"/>
<line x1="601" y1="449.6" x2="601" y2="456.6" stroke="#181818" stroke-width="0.9"/>
<text transform="translate(584.3,469.3) rotate(-90) scale(0.7517775978050684,1)" font-size="9.86" font-weight="bold" textLength="13.7" lengthAdjust="spacing" fill="#141414" stroke="#141414" stroke-width="0.15">25</text>
<text transform="translate(615.4,470) rotate(-90) scale(0.6,1)" font-size="9.86" font-weight="bold" textLength="19.5" lengthAdjust="spacing" fill="#141414" stroke="#141414" stroke-width="0.15">415</text>
<circle cx="512.8" cy="472.2" r="16.8" fill="none" stroke="#181818" stroke-width="0.9"/>
<line x1="496" y1="472.2" x2="529.6" y2="472.2" stroke="#181818" stroke-width="0.9"/>
<text transform="translate(503.92,468.9) scale(0.672990262848884,1)" font-size="11.59" font-weight="bold" textLength="26.39" lengthAdjust="spacing" fill="#141414" stroke="#141414" stroke-width="0.15">24б</text>
<text transform="translate(506.88,483) scale(0.7345524023602119,1)" font-size="11.59" font-weight="bold" textLength="16.12" lengthAdjust="spacing" fill="#141414" stroke="#141414" stroke-width="0.15">23</text>
<line x1="529.6" y1="472.4" x2="537" y2="448.9" stroke="#181818" stroke-width="1.0"/>
<text transform="translate(541.9,476) scale(0.6783028940713675,1)" font-size="11.59" font-weight="bold" textLength="24.18" lengthAdjust="spacing" fill="#141414" stroke="#141414" stroke-width="0.15">300</text>
<text transform="translate(542.6,491.1) scale(0.7362067996628248,1)" font-size="11.59" font-weight="bold" textLength="24.18" lengthAdjust="spacing" fill="#141414" stroke="#141414" stroke-width="0.15">350</text>
<text transform="translate(543.9,504.9) scale(0.7072548468670984,1)" font-size="11.59" font-weight="bold" textLength="24.18" lengthAdjust="spacing" fill="#141414" stroke="#141414" stroke-width="0.15">400</text>
<line x1="534.4" y1="479.5" x2="570.6" y2="479.5" stroke="#181818" stroke-width="1.0"/>
<line x1="534.4" y1="493.9" x2="567.9" y2="493.9" stroke="#181818" stroke-width="1.0"/>
<line x1="534.3" y1="507.7" x2="565.8" y2="507.7" stroke="#181818" stroke-width="1.0"/>
<line x1="538.5" y1="470.6" x2="538.5" y2="510.5" stroke="#181818" stroke-width="1.0"/>
<line x1="563.6" y1="461" x2="563.7" y2="512.5" stroke="#181818" stroke-width="1.0"/>
<line x1="535.9" y1="482.1" x2="541.1" y2="476.9" stroke="#181818" stroke-width="1.0"/>
<line x1="538.5" y1="476" x2="538.5" y2="483" stroke="#181818" stroke-width="0.9"/>
<line x1="561" y1="482.1" x2="566.2" y2="476.9" stroke="#181818" stroke-width="1.0"/>
<line x1="563.6" y1="476" x2="563.6" y2="483" stroke="#181818" stroke-width="0.9"/>
<line x1="535.9" y1="496.5" x2="541.1" y2="491.3" stroke="#181818" stroke-width="1.0"/>
<line x1="538.5" y1="490.4" x2="538.5" y2="497.4" stroke="#181818" stroke-width="0.9"/>
<line x1="561" y1="496.5" x2="566.2" y2="491.3" stroke="#181818" stroke-width="1.0"/>
<line x1="563.6" y1="490.4" x2="563.6" y2="497.4" stroke="#181818" stroke-width="0.9"/>
<line x1="535.9" y1="510.3" x2="541.1" y2="505.1" stroke="#181818" stroke-width="1.0"/>
<line x1="538.5" y1="504.2" x2="538.5" y2="511.2" stroke="#181818" stroke-width="0.9"/>
<line x1="561" y1="510.3" x2="566.2" y2="505.1" stroke="#181818" stroke-width="1.0"/>
<line x1="563.6" y1="504.2" x2="563.6" y2="511.2" stroke="#181818" stroke-width="0.9"/>
<text transform="translate(243.5,509.85) scale(0.8,1)" font-size="16.38" font-weight="bold" textLength="5.12" lengthAdjust="spacingAndGlyphs" fill="#141414" stroke="#141414" stroke-width="0.15">1</text>
<text transform="translate(266.4,509.85) scale(0.8,1)" font-size="16.38" font-weight="bold" textLength="5.62" lengthAdjust="spacingAndGlyphs" fill="#141414" stroke="#141414" stroke-width="0.15">1</text>
<line x1="251.2" y1="504.9" x2="261.8" y2="504.9" stroke="#141414" stroke-width="1.7"/>
<line x1="236.8" y1="511.3" x2="275.5" y2="511.1" stroke="#141414" stroke-width="1.3"/>
<circle cx="359.8" cy="502.2" r="17.3" fill="none" stroke="#181818" stroke-width="0.9"/>
<line x1="342.5" y1="503.4" x2="377.1" y2="503.4" stroke="#181818" stroke-width="0.9"/>
<text transform="translate(353.66,500.25) scale(0.734552402360213,1)" font-size="12.03" font-weight="bold" textLength="16.72" lengthAdjust="spacing" fill="#141414" stroke="#141414" stroke-width="0.15">23</text>
<text transform="translate(353.66,514.35) scale(0.734552402360213,1)" font-size="12.03" font-weight="bold" textLength="16.72" lengthAdjust="spacing" fill="#141414" stroke="#141414" stroke-width="0.15">23</text>
<line x1="376.8" y1="503.6" x2="409.6" y2="534" stroke="#181818" stroke-width="1.0"/>
<line x1="65.7" y1="521.4" x2="459.4" y2="521.2" stroke="#141414" stroke-width="1.2"/>
<polyline points="65.7,521.4 63,527 62.6,544.6" fill="none" stroke="#141414" stroke-width="1.2" stroke-linejoin="miter"/>
<line x1="62.6" y1="544.6" x2="460.7" y2="543.9" stroke="#141414" stroke-width="1.2"/>
<polyline points="459.4,521.2 459.6,526 460.7,526 460.7,543.9" fill="none" stroke="#141414" stroke-width="1.2" stroke-linejoin="miter"/>
<line x1="111.2" y1="528.3" x2="208.3" y2="528.2" stroke="#141414" stroke-width="1.1"/>
<line x1="309" y1="528.3" x2="406" y2="528.2" stroke="#141414" stroke-width="1.1"/>
<polyline points="105.5,521.4 108.3,528.3 110.6,528.3" fill="none" stroke="#141414" stroke-width="1.0" stroke-linejoin="miter"/>
<polyline points="106.8,544.3 108.5,530 111.8,529.8" fill="none" stroke="#141414" stroke-width="1.1" stroke-linejoin="miter"/>
<line x1="111.7" y1="529.5" x2="111.7" y2="544.3" stroke="#141414" stroke-width="1.0"/>
<polyline points="210.5,521.3 209,528.2" fill="none" stroke="#141414" stroke-width="1.0" stroke-linejoin="miter"/>
<line x1="208.8" y1="528.5" x2="212.8" y2="544" stroke="#141414" stroke-width="1.1"/>
<polyline points="304.5,521.3 307.6,528.3" fill="none" stroke="#141414" stroke-width="1.0" stroke-linejoin="miter"/>
<line x1="307.5" y1="530" x2="304.5" y2="544" stroke="#141414" stroke-width="1.1"/>
<line x1="308.3" y1="529.5" x2="308.3" y2="544" stroke="#141414" stroke-width="1.0"/>
<polyline points="411.8,521.3 408.6,528.2" fill="none" stroke="#141414" stroke-width="1.0" stroke-linejoin="miter"/>
<line x1="408.7" y1="528.5" x2="410.5" y2="544" stroke="#141414" stroke-width="1.1"/>
<line x1="153.8" y1="521.3" x2="151.5" y2="527.5" stroke="#181818" stroke-width="1.0"/>
<line x1="155" y1="529.8" x2="157.2" y2="544" stroke="#181818" stroke-width="1.0"/>
<polyline points="74.8,526.4 72.8,526.4 72.8,541.3 74.8,541.3" fill="none" stroke="#141414" stroke-width="1.7" stroke-linejoin="miter"/>
<rect x="72" y="526" width="2.5" height="3" fill="#141414"/>
<rect x="72" y="538.5" width="2.5" height="3" fill="#141414"/>
<line x1="93.1" y1="525.7" x2="110.2" y2="525.7" stroke="#141414" stroke-width="1.5"/>
<line x1="102.7" y1="525.7" x2="102.7" y2="540.8" stroke="#141414" stroke-width="1.7"/>
<rect x="101.5" y="537.8" width="2.4" height="3" fill="#141414"/>
<line x1="210.3" y1="525.2" x2="226.7" y2="525.2" stroke="#141414" stroke-width="1.5"/>
<line x1="217.1" y1="525.2" x2="217.1" y2="540.5" stroke="#141414" stroke-width="1.7"/>
<rect x="215.9" y="537.5" width="2.4" height="3" fill="#141414"/>
<polyline points="245.4,525.2 247.2,525.2 247.2,540.5 245.4,540.5" fill="none" stroke="#141414" stroke-width="1.7" stroke-linejoin="miter"/>
<path d="M252.7,543.8 L255,537.3 L262,537.3 L264.3,543.8" fill="none" stroke="#141414" stroke-width="1.3"/>
<rect x="255.6" y="538.8" width="5.2" height="3.2" fill="none" stroke="#141414" stroke-width="1.0"/>
<polyline points="270.2,525.2 268.4,525.2 268.4,540.5 270.2,540.5" fill="none" stroke="#141414" stroke-width="1.7" stroke-linejoin="miter"/>
<rect x="268" y="526" width="2.5" height="4" fill="#141414"/>
<line x1="295.8" y1="525" x2="306.8" y2="525" stroke="#141414" stroke-width="1.5"/>
<line x1="301.3" y1="525" x2="301.3" y2="541" stroke="#141414" stroke-width="1.7"/>
<rect x="300.1" y="538" width="2.4" height="3" fill="#141414"/>
<line x1="410.5" y1="524.3" x2="421" y2="524.3" stroke="#141414" stroke-width="1.5"/>
<line x1="416.5" y1="524.3" x2="416.5" y2="541" stroke="#141414" stroke-width="1.7"/>
<rect x="415.3" y="538" width="2.4" height="3" fill="#141414"/>
<polyline points="442.5,523.5 444.3,523.5 444.3,541 442.5,541" fill="none" stroke="#141414" stroke-width="1.7" stroke-linejoin="miter"/>
<line x1="59.2" y1="565.8" x2="466" y2="565.6" stroke="#181818" stroke-width="0.9"/>
<line x1="59.3" y1="568.3" x2="64.5" y2="563.1" stroke="#181818" stroke-width="1.0"/>
<line x1="61.9" y1="562.2" x2="61.9" y2="569.2" stroke="#181818" stroke-width="0.9"/>
<line x1="109.1" y1="568.3" x2="114.3" y2="563.1" stroke="#181818" stroke-width="1.0"/>
<line x1="111.7" y1="562.2" x2="111.7" y2="569.2" stroke="#181818" stroke-width="0.9"/>
<line x1="152.4" y1="568.3" x2="157.6" y2="563.1" stroke="#181818" stroke-width="1.0"/>
<line x1="155" y1="562.2" x2="155" y2="569.2" stroke="#181818" stroke-width="0.9"/>
<line x1="209.8" y1="568.3" x2="215" y2="563.1" stroke="#181818" stroke-width="1.0"/>
<line x1="212.4" y1="562.2" x2="212.4" y2="569.2" stroke="#181818" stroke-width="0.9"/>
<line x1="305.4" y1="568.3" x2="310.6" y2="563.1" stroke="#181818" stroke-width="1.0"/>
<line x1="308" y1="562.2" x2="308" y2="569.2" stroke="#181818" stroke-width="0.9"/>
<line x1="405.6" y1="568.3" x2="410.8" y2="563.1" stroke="#181818" stroke-width="1.0"/>
<line x1="408.2" y1="562.2" x2="408.2" y2="569.2" stroke="#181818" stroke-width="0.9"/>
<line x1="458.1" y1="568.3" x2="463.3" y2="563.1" stroke="#181818" stroke-width="1.0"/>
<line x1="460.7" y1="562.2" x2="460.7" y2="569.2" stroke="#181818" stroke-width="0.9"/>
<line x1="62.4" y1="544" x2="62.4" y2="571" stroke="#181818" stroke-width="1.0"/>
<line x1="111.7" y1="544" x2="111.7" y2="571" stroke="#181818" stroke-width="1.0"/>
<line x1="155" y1="545" x2="155" y2="571.7" stroke="#181818" stroke-width="1.0"/>
<line x1="212.4" y1="545" x2="212.4" y2="571.7" stroke="#181818" stroke-width="1.0"/>
<line x1="308" y1="544" x2="308" y2="571" stroke="#181818" stroke-width="1.0"/>
<line x1="408.2" y1="544" x2="408.2" y2="571" stroke="#181818" stroke-width="1.0"/>
<line x1="460.7" y1="544" x2="460.7" y2="571" stroke="#181818" stroke-width="1.0"/>
<line x1="55" y1="556.1" x2="85.2" y2="556.1" stroke="#181818" stroke-width="1.0"/>
<line x1="59.8" y1="558.7" x2="65" y2="553.5" stroke="#181818" stroke-width="1.0"/>
<line x1="62.4" y1="552.6" x2="62.4" y2="559.6" stroke="#181818" stroke-width="0.9"/>
<line x1="73" y1="558.7" x2="78.2" y2="553.5" stroke="#181818" stroke-width="1.0"/>
<line x1="75.6" y1="552.6" x2="75.6" y2="559.6" stroke="#181818" stroke-width="0.9"/>
<line x1="75.6" y1="541" x2="75.6" y2="560" stroke="#181818" stroke-width="1.0"/>
<text transform="translate(40,555.1) scale(0.6295900846055383,1)" font-size="10.43" font-weight="bold" textLength="21.76" lengthAdjust="spacing" fill="#141414" stroke="#141414" stroke-width="0.15">160</text>
<text transform="translate(84.5,563.5) scale(0.8393039974232278,1)" font-size="11.88" font-weight="bold" textLength="24.78" lengthAdjust="spacing" fill="#141414" stroke="#141414" stroke-width="0.15">745</text>
<text transform="translate(123.1,563.5) scale(0.7464963438620057,1)" font-size="11.88" font-weight="bold" textLength="24.78" lengthAdjust="spacing" fill="#141414" stroke="#141414" stroke-width="0.15">720</text>
<text transform="translate(175.8,563.5) scale(0.7747421514675946,1)" font-size="11.88" font-weight="bold" textLength="24.78" lengthAdjust="spacing" fill="#141414" stroke="#141414" stroke-width="0.15">890</text>
<text transform="translate(251.9,563.45) scale(0.7831530088343794,1)" font-size="11.16" font-weight="bold" textLength="31.03" lengthAdjust="spacing" fill="#141414" stroke="#141414" stroke-width="0.15">1740</text>
<text transform="translate(354.7,563.45) scale(0.7477016380640991,1)" font-size="11.16" font-weight="bold" textLength="31.03" lengthAdjust="spacing" fill="#141414" stroke="#141414" stroke-width="0.15">1510</text>
<text transform="translate(417,563.5) scale(0.7666719207231409,1)" font-size="11.88" font-weight="bold" textLength="24.78" lengthAdjust="spacing" fill="#141414" stroke="#141414" stroke-width="0.15">795</text>
<line x1="438.8" y1="551.5" x2="464.8" y2="551.5" stroke="#181818" stroke-width="1.0"/>
<line x1="441.7" y1="554.1" x2="446.9" y2="548.9" stroke="#181818" stroke-width="1.0"/>
<line x1="444.3" y1="548" x2="444.3" y2="555" stroke="#181818" stroke-width="0.9"/>
<line x1="458.1" y1="554.1" x2="463.3" y2="548.9" stroke="#181818" stroke-width="1.0"/>
<line x1="460.7" y1="548" x2="460.7" y2="555" stroke="#181818" stroke-width="0.9"/>
<line x1="444.3" y1="541" x2="444.3" y2="557" stroke="#181818" stroke-width="1.0"/>
<text transform="translate(466.2,550.6) scale(0.6939277574849374,1)" font-size="10.43" font-weight="bold" textLength="21.76" lengthAdjust="spacing" fill="#141414" stroke="#141414" stroke-width="0.15">160</text>
<line x1="462" y1="521.3" x2="477" y2="521.3" stroke="#181818" stroke-width="1.0"/>
<line x1="462" y1="526" x2="477" y2="526" stroke="#181818" stroke-width="1.0"/>
<line x1="475.8" y1="517.8" x2="475.8" y2="530" stroke="#181818" stroke-width="1.0"/>
<line x1="473.2" y1="523.9" x2="478.4" y2="518.7" stroke="#181818" stroke-width="1.0"/>
<line x1="475.8" y1="517.8" x2="475.8" y2="524.8" stroke="#181818" stroke-width="0.9"/>
<line x1="473.2" y1="528.6" x2="478.4" y2="523.4" stroke="#181818" stroke-width="1.0"/>
<line x1="475.8" y1="522.5" x2="475.8" y2="529.5" stroke="#181818" stroke-width="0.9"/>
<text transform="translate(472.2,535.6) rotate(-90) scale(0.7219188229584425,1)" font-size="9.57" font-weight="bold" textLength="13.3" lengthAdjust="spacing" fill="#141414" stroke="#141414" stroke-width="0.15">40</text>
<text transform="translate(298.1,580.35) scale(0.8,1)" font-size="13.19" font-weight="bold" textLength="122.75" lengthAdjust="spacing" fill="#141414" stroke="#141414" stroke-width="0.15">АБНР5-64-2б</text>
<line x1="291.7" y1="582.6" x2="406" y2="582.8" stroke="#141414" stroke-width="1.1"/>
<line x1="292.4" y1="582.1" x2="267.8" y2="526" stroke="#181818" stroke-width="1.0"/>
<line x1="292.4" y1="582.1" x2="302" y2="527.4" stroke="#181818" stroke-width="1.0"/>
<line x1="333.5" y1="560.2" x2="354" y2="534.2" stroke="#181818" stroke-width="1.0"/>
</svg>
</body></html>
